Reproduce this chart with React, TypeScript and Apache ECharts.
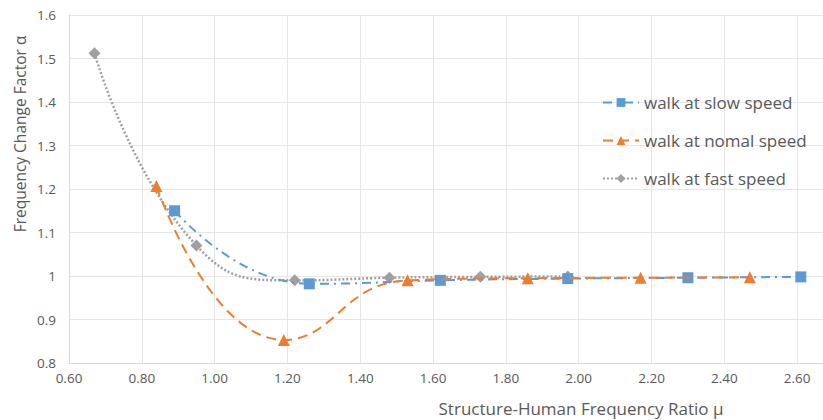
import React, { useEffect, useRef } from "react";
import * as echarts from "echarts";

const slowX = [0.89, 1.26, 1.62, 1.97, 2.3, 2.61];
const slowY = [1.15, 0.982, 0.99, 0.994, 0.996, 0.998];
const normalX = [0.84, 1.19, 1.53, 1.86, 2.17, 2.47];
const normalY = [1.207, 0.853, 0.99, 0.995, 0.996, 0.997];
const fastX = [0.67, 0.95, 1.22, 1.48, 1.73, 1.97];
const fastY = [1.512, 1.07, 0.99, 0.996, 0.998, 0.999];

const seriesNames = ["walk at slow speed", "walk at nomal speed", "walk at fast speed"];
const xAxisTitle = "Structure-Human Frequency Ratio μ";
const yAxisTitle = "Frequency Change Factor α";

const FONT = "'Open Sans', sans-serif";
const TXT = "#595959";

function pairs(xs: number[], ys: number[]) {
  return xs.map((x, i) => [x, ys[i]]);
}

export default function App() {
  const ref = useRef<HTMLDivElement>(null);
  useEffect(() => {
    if (!ref.current) return;
    const chart = echarts.init(ref.current, null, { renderer: "svg" });
    chart.setOption({
      animation: false,
      backgroundColor: "#ffffff",
      textStyle: { fontFamily: FONT },
      grid: { left: 69, top: 15, width: 754, height: 348 },
      legend: {
        orient: "vertical",
        left: 597,
        top: 89,
        itemWidth: 36,
        itemHeight: 11,
        itemGap: 21,
        textStyle: { fontSize: 17, color: TXT, fontFamily: FONT, padding: [0, 0, 0, 0] },
        data: seriesNames,
      },
      xAxis: {
        type: "value",
        min: 0.6,
        max: 2.671,
        interval: 0.2,
        axisLine: { show: true, lineStyle: { color: "#d9d9d9", width: 1 } },
        axisTick: { show: false },
        axisLabel: {
          color: TXT,
          fontSize: 13.5,
          fontFamily: FONT,
          margin: 8,
          showMaxLabel: false,
          formatter: (v: number) => {
            const k = Math.round((v - 0.6) / 0.2);
            if (Math.abs(v - (0.6 + k * 0.2)) > 1e-6) return "";
            return v.toFixed(2);
          },
        },
        splitLine: { show: true, lineStyle: { color: "#e6e6e6", width: 1 } },
      },
      yAxis: {
        type: "value",
        min: 0.8,
        max: 1.6,
        interval: 0.1,
        axisLine: { show: true, lineStyle: { color: "#d9d9d9", width: 1 } },
        axisTick: { show: false },
        axisLabel: {
          color: TXT,
          fontSize: 13.5,
          fontFamily: FONT,
          margin: 13,
          formatter: (v: number) => String(Math.round(v * 10) / 10),
        },
        splitLine: { show: true, lineStyle: { color: "#e6e6e6", width: 1 } },
      },
      graphic: [
        {
          type: "text",
          x: 20,
          y: 134,
          rotation: Math.PI / 2,
          style: {
            text: yAxisTitle,
            fontSize: 15.5,
            fontFamily: FONT,
            fill: TXT,
            align: "center",
            verticalAlign: "middle",
          },
        },
        {
          type: "text",
          x: 581,
          y: 408,
          style: {
            text: xAxisTitle,
            fontSize: 17,
            fontFamily: FONT,
            fill: TXT,
            align: "center",
            verticalAlign: "middle",
          },
        },
      ],
      series: [
        {
          name: seriesNames[0],
          type: "line",
          smooth: 0.5,
          data: pairs(slowX, slowY),
          symbol: "rect",
          symbolSize: 11,
          itemStyle: { color: "#5B9BD5" },
          lineStyle: { color: "#5B9BD5", width: 2, type: [9, 5, 2, 5] },
          z: 3,
        },
        {
          name: seriesNames[1],
          type: "line",
          smooth: 0.5,
          data: pairs(normalX, normalY),
          symbol: "triangle",
          symbolSize: 12,
          itemStyle: { color: "#ED7D31" },
          lineStyle: { color: "#ED7D31", width: 2, type: [10, 6] },
          z: 4,
        },
        {
          name: seriesNames[2],
          type: "line",
          smooth: 0.5,
          data: pairs(fastX, fastY),
          symbol: "diamond",
          symbolSize: 12,
          itemStyle: { color: "#A0A0A0" },
          lineStyle: { color: "#A0A0A0", width: 2.5, type: [2, 2] },
          z: 2,
        },
      ],
    });
    return () => chart.dispose();
  }, []);
  return (
    <div
      ref={ref}
      style={{ position: "fixed", left: 0, top: 0, width: 823, height: 420 }}
    />
  );
}
